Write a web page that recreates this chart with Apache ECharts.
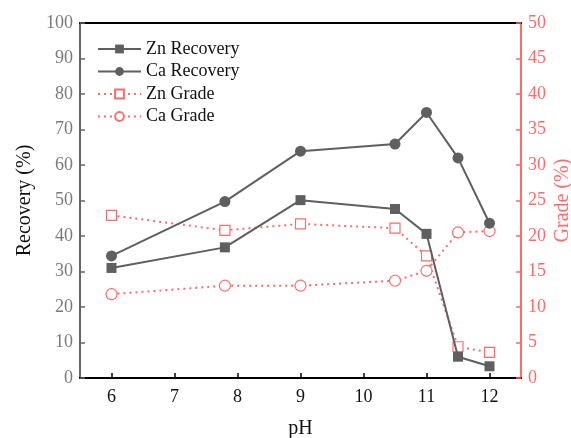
<!DOCTYPE html>
<html><head><meta charset="utf-8">
<script src="https://cdn.jsdelivr.net/npm/echarts@6/dist/echarts.min.js"></script>
<style>html,body{margin:0;padding:0;background:#fff}#c{width:571px;height:438px}</style>
</head><body><div id="c"></div>
<script>
var pH = [6, 7.8, 9, 10.5, 11, 11.5, 12];
var znRecovery = [31.0, 36.8, 50.1, 47.6, 40.6, 6.0, 3.3];
var caRecovery = [34.4, 49.7, 63.9, 65.9, 74.8, 62.0, 43.6];
var znGrade = [22.9, 20.8, 21.7, 21.1, 17.2, 4.4, 3.6];
var caGrade = [11.8, 13.0, 13.0, 13.7, 15.1, 20.5, 20.7];
var xTicks = [6, 7, 8, 9, 10, 11, 12];

var GRAY = '#5f5f5f', PINK = '#ff6b6b', FONT = 'Liberation Serif';
function pairs(a){ return pH.map(function(x,i){ return [x, a[i]]; }); }

var chart = echarts.init(document.getElementById('c'), null, {renderer:'canvas'});
chart.setOption({
  animation: false,
  textStyle: {fontFamily: FONT},
  grid: {left: 80, right: 50, top: 23, bottom: 60, outerBoundsMode: 'none', containLabel: false},
  legend: {
    left: 92, top: 35, orient: 'vertical', itemGap: 4.5, itemWidth: 43, itemHeight: 11,
    textStyle: {fontFamily: FONT, fontSize: 18, color: '#111'},
    data: ['Zn Recovery', 'Ca Recovery', 'Zn Grade', 'Ca Grade']
  },
  xAxis: [{
    type: 'value', min: 5.5, max: 12.5, name: 'pH', nameLocation: 'middle', nameGap: 41,
    nameTextStyle: {fontFamily: FONT, fontSize: 20, color: '#111'},
    axisLine: {show: true, onZero: false, lineStyle: {color: '#000', width: 2}},
    axisTick: {show: true, inside: true, length: 5, lineStyle: {width: 1.5, color:'#000'}, customValues: xTicks},
    axisLabel: {fontFamily: FONT, fontSize: 18, color: '#111', margin: 10, customValues: xTicks},
    splitLine: {show: false}
  }, {
    type: 'value', position: 'top', min: 5.5, max: 12.5,
    axisLine: {show: true, onZero: false, lineStyle: {color: '#000', width: 2}},
    axisTick: {show: false}, axisLabel: {show: false}, splitLine: {show: false}
  }],
  yAxis: [{
    type: 'value', min: 0, max: 100, interval: 10, name: 'Recovery (%)', nameLocation: 'middle', nameGap: 45,
    nameMoveOverlap: false,
    nameTextStyle: {fontFamily: FONT, fontSize: 20, color: '#111'},
    axisLine: {show: true, onZero: false, lineStyle: {color: '#666', width: 2}},
    axisTick: {show: true, inside: true, length: 5, lineStyle: {color: '#666', width: 1.5}},
    axisLabel: {fontFamily: FONT, fontSize: 18, color: '#7a7a7a', margin: 7},
    splitLine: {show: false}
  }, {
    type: 'value', min: 0, max: 50, interval: 5, position: 'right', name: 'Grade (%)', nameLocation: 'middle', nameGap: 32,
    nameMoveOverlap: false,
    nameTextStyle: {fontFamily: FONT, fontSize: 20, color: PINK},
    axisLine: {show: true, onZero: false, lineStyle: {color: PINK, width: 2}},
    axisTick: {show: true, inside: true, length: 5, lineStyle: {color: PINK, width: 1.5}},
    axisLabel: {fontFamily: FONT, fontSize: 18, color: PINK, margin: 7},
    splitLine: {show: false}
  }],
  series: [{
    name: 'Zn Recovery', type: 'line', yAxisIndex: 0, data: pairs(znRecovery),
    symbol: 'rect', symbolSize: 10,
    lineStyle: {color: GRAY, width: 2}, itemStyle: {color: GRAY}
  }, {
    name: 'Ca Recovery', type: 'line', yAxisIndex: 0, data: pairs(caRecovery),
    symbol: 'circle', symbolSize: 11,
    lineStyle: {color: GRAY, width: 2}, itemStyle: {color: GRAY}
  }, {
    name: 'Zn Grade', type: 'line', yAxisIndex: 1, data: pairs(znGrade),
    symbol: 'rect', symbolSize: 10, z: 1,
    lineStyle: {color: PINK, width: 2, type: [2, 4]}, itemStyle: {color: '#fff', borderColor: PINK, borderWidth: 1.2}
  }, {
    name: 'Ca Grade', type: 'line', yAxisIndex: 1, data: pairs(caGrade),
    symbol: 'circle', symbolSize: 11, z: 1,
    lineStyle: {color: PINK, width: 2, type: [2, 4]}, itemStyle: {color: '#fff', borderColor: PINK, borderWidth: 1.2}
  }]
});
</script></body></html>
